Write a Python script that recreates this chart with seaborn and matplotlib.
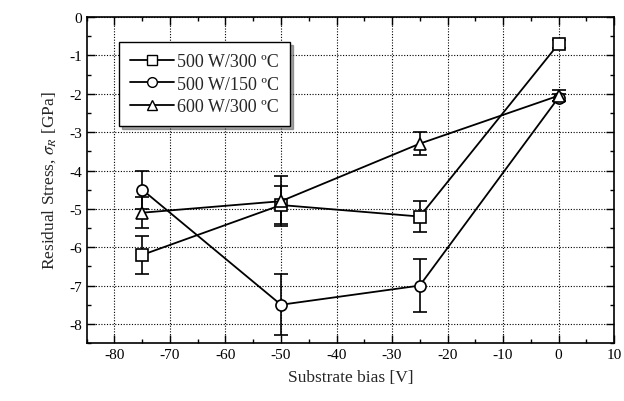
import pandas as pd
import numpy as np
import matplotlib
matplotlib.use("Agg")
import matplotlib.pyplot as plt
import seaborn as sns
from matplotlib.ticker import MultipleLocator
from matplotlib.lines import Line2D

# bias voltages
bias = [-75, -50, -25, 0]

# residual stress (GPa) and error bars for each deposition condition
s_500_300 = [-6.2, -4.9, -5.2, -0.7]
e_500_300 = [0.5, 0.5, 0.4, 0.1]
s_500_150 = [-4.5, -7.5, -7.0, -2.1]
e_500_150 = [0.5, 0.8, 0.7, 0.1]
s_600_300 = [-5.1, -4.8, -3.3, -2.05]
e_600_300 = [0.4, 0.65, 0.3, 0.15]

labels = ["500 W/300 \u00baC", "500 W/150 \u00baC", "600 W/300 \u00baC"]
mark = {labels[0]: "s", labels[1]: "o", labels[2]: "^"}

rows = []
for lab, s, e in zip(labels, [s_500_300, s_500_150, s_600_300], [e_500_300, e_500_150, e_600_300]):
    for b, v, ee in zip(bias, s, e):
        rows.append({"bias": b, "stress": v, "err": ee, "cond": lab})
df = pd.DataFrame(rows)

sns.set_style("ticks")
plt.rcParams['font.family'] = ['Liberation Serif', 'DejaVu Serif']
plt.rcParams['mathtext.fontset'] = 'stix'
plt.rcParams['axes.unicode_minus'] = False

fig = plt.figure(figsize=(6.24, 4.02), dpi=100)
ax = fig.add_axes([0.139, 0.144, 0.845, 0.811])

for lab in labels:
    d = df[df["cond"] == lab]
    ax.errorbar(d["bias"], d["stress"], yerr=d["err"], fmt="none", ecolor="black",
                elinewidth=1.2, capsize=5, capthick=1.2, zorder=2)

sns.lineplot(data=df, x="bias", y="stress", hue="cond", style="cond",
             palette=["black"] * 3, markers=mark, dashes=False, ax=ax,
             markersize=8, markerfacecolor="white", markeredgecolor="black",
             markeredgewidth=1.2, linewidth=1.3, legend=False, zorder=3)

ax.set_xlim(-85, 10)
ax.set_ylim(-8.5, 0)
ax.xaxis.set_major_locator(MultipleLocator(10))
ax.xaxis.set_minor_locator(MultipleLocator(5))
ax.yaxis.set_major_locator(MultipleLocator(1))
ax.yaxis.set_minor_locator(MultipleLocator(0.5))
ax.tick_params(which="both", direction="in", top=True, right=True, colors="black",
               labelsize=11, width=1.0)
ax.tick_params(which="major", length=6)
ax.tick_params(which="minor", length=3)
ax.grid(True, which="major", linestyle=(0, (1, 1.5)), color="black", linewidth=0.8)
for sp in ax.spines.values():
    sp.set_color("black")
    sp.set_linewidth(1.2)

ax.set_xlabel("Substrate bias [V]", fontsize=12.5, labelpad=6)
ax.set_ylabel("Residual Stress, $\\sigma_R$ [GPa]", fontsize=12.5, labelpad=8)

handles = [Line2D([0], [0], color="black", marker=mark[l], markersize=7,
                  markerfacecolor="white", markeredgecolor="black", lw=1.3) for l in labels]
leg = ax.legend(handles, labels, loc="upper left", bbox_to_anchor=(0.045, 0.95),
                frameon=True, fancybox=False, shadow=True, fontsize=13,
                handlelength=2.4, handletextpad=0.2, borderpad=0.6, labelspacing=0.3)
leg.get_frame().set_edgecolor("black")
leg.get_frame().set_linewidth(1.0)
leg.get_frame().set_alpha(1)

plt.savefig("out.png", dpi=100)
